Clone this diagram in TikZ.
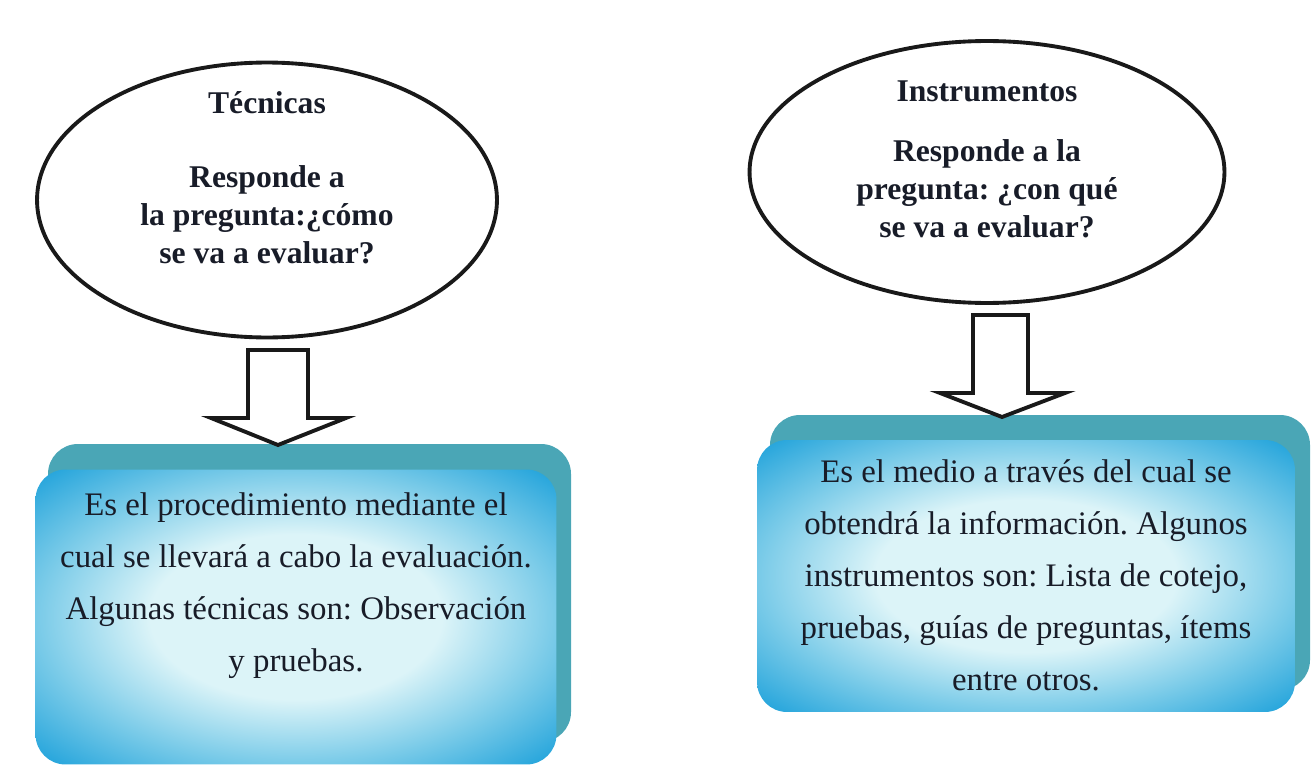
\documentclass[tikz,border=0pt]{standalone}
\usepackage{fontspec}
\setmainfont{Liberation Serif}
\usetikzlibrary{positioning,shapes.geometric}
\frenchspacing

\definecolor{boxback}{RGB}{74,166,182}
\definecolor{boxedge}{RGB}{40,166,220}
\definecolor{boxhalf}{RGB}{120,202,232}
\definecolor{boxmid}{RGB}{220,244,248}
\definecolor{inktext}{RGB}{24,28,40}

\pgfdeclareradialshading{boxglow}{\pgfpoint{0bp}{0bp}}{%
    color(0bp)=(boxmid); color(14bp)=(boxmid); color(25bp)=(boxhalf);
    color(34bp)=(boxedge); color(50bp)=(boxedge)}

\begin{document}
\begin{tikzpicture}[x=0.02cm,y=-0.02cm]
    \tikzstyle{oval}=[ellipse,draw=black!90,line width=2.2pt,inner sep=0pt]
    \tikzstyle{oval title}=[font=\bfseries\fontsize{18}{21.6}\selectfont,text=inktext,inner sep=0pt]
    \tikzstyle{oval text}=[align=center,font=\bfseries\fontsize{18}{21.6}\selectfont,text=inktext,inner sep=0pt]
    \tikzstyle{box back}=[fill=boxback,rounded corners=0.6cm]
    \tikzstyle{box front}=[rectangle,shading=boxglow,rounded corners=0.6cm,inner sep=0pt]
    \tikzstyle{box text}=[align=center,font=\fontsize{18.7}{29.6}\selectfont,text=inktext,inner sep=0pt]
    \tikzstyle{hollow arrow}=[draw=black!90,fill=white,line width=2.2pt,line join=miter]

    \useasboundingbox (0,0) rectangle (1314,767);

    % Draw the two ovals
    \node[oval, minimum width=9.2cm, minimum height=5.5cm] (tecOval) at (267,200) {};
    \node[oval, minimum width=9.5cm, minimum height=5.24cm] (insOval) at (987,172) {};

    % Oval texts
    \node[oval title, anchor=base] (tecTitle) at (267,113) {Técnicas};
    \node[oval text, anchor=north] (tecAsk) at (267,165)
        {Responde a\\ la pregunta:¿cómo\\ se va a evaluar?};
    \node[oval title, anchor=base] (insTitle) at (987,101) {Instrumentos};
    \node[oval text, anchor=north] (insAsk) at (987,139)
        {Responde a la\\ pregunta: ¿con qué\\ se va a evaluar?};

    % Draw the boxes (back face first, then the shaded front)
    \path[box back] (48,444) rectangle (571,742);
    \node[box front, minimum width=10.42cm, minimum height=5.9cm] (tecBox) at (296,617) {};
    \path[box back] (770,415) rectangle (1310,690);
    \node[box front, minimum width=10.76cm, minimum height=5.44cm] (insBox) at (1026,576) {};

    % Box texts
    \node[box text, anchor=north] (tecDesc) at (tecBox.north) [yshift=-0.46cm]
        {Es el procedimiento mediante el\\ cual se llevará a cabo la evaluación.\\
         Algunas técnicas son: Observación\\ y pruebas.};
    \node[box text, anchor=north] (insDesc) at (insBox.north) [yshift=-0.4cm]
        {Es el medio a través del cual se\\ obtendrá la información. Algunos\\
         instrumentos son: Lista de cotejo,\\ pruebas, guías de preguntas, ítems\\ entre otros.};

    % Hollow arrows from the ovals down to the boxes
    \coordinate (tecDrop) at (278,350);
    \draw[hollow arrow] (tecDrop) ++(-30,0) -- ++(60,0) -- ++(0,68) -- ++(38,0)
        -- ++(-68,27) -- ++(-67,-27) -- ++(37,0) -- cycle;
    \coordinate (insDrop) at (1001,315);
    \draw[hollow arrow] (insDrop) ++(-28,0) -- ++(55,0) -- ++(0,78) -- ++(37,0)
        -- ++(-63,24) -- ++(-62,-24) -- ++(33,0) -- cycle;
\end{tikzpicture}
\end{document}
